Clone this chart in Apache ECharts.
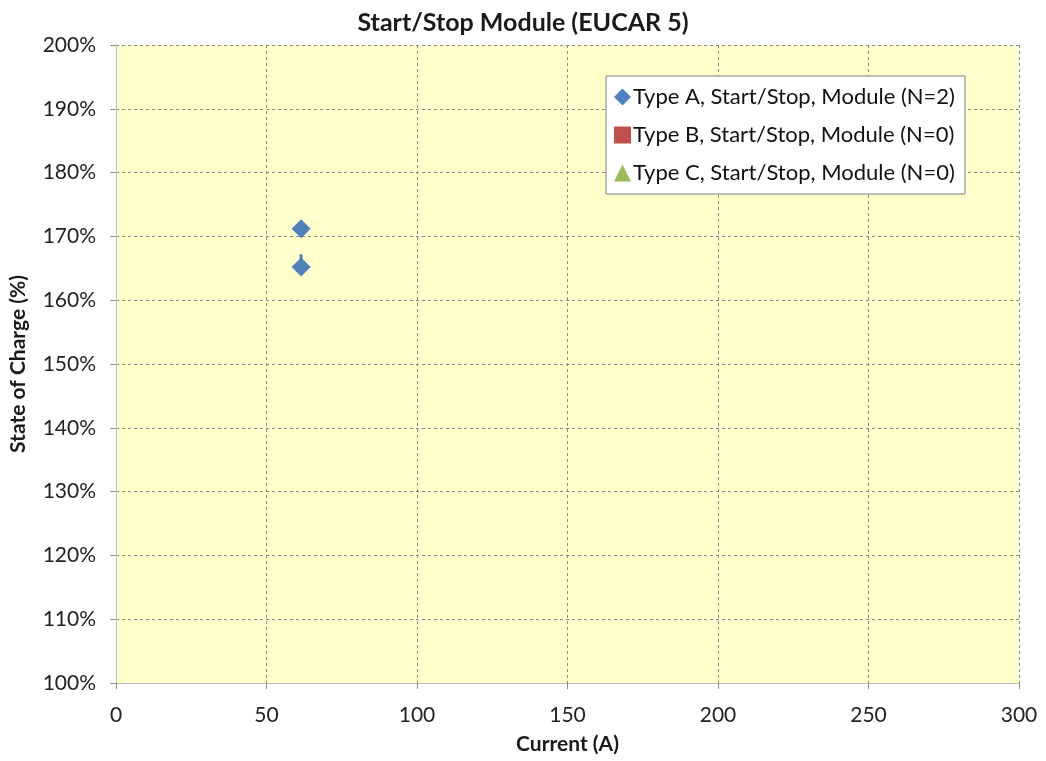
<!DOCTYPE html>
<html><head><meta charset="utf-8">
<script src="https://cdn.jsdelivr.net/npm/echarts@6/dist/echarts.min.js"></script>
<style>html,body{margin:0;padding:0;background:#fff}#c{width:1046px;height:761px}</style>
</head><body><div id="c"></div>
<script>
const seriesNames = ['Type A, Start/Stop, Module (N=2)', 'Type B, Start/Stop, Module (N=0)', 'Type C, Start/Stop, Module (N=0)'];
const typeA = [[61.5, 171.2], [61.5, 165.2]];
const typeB = [];
const typeC = [];
// error bars: [x, y, yHigh]
const errBars = [[61.5, 165.2, 167.2]];
const xTicks = [0, 50, 100, 150, 200, 250, 300];
const yTicks = [100, 110, 120, 130, 140, 150, 160, 170, 180, 190, 200];

const font = 'Lato, "Open Sans", sans-serif';
const chart = echarts.init(document.getElementById('c'));
const gridLine = {show: true, lineStyle: {color: '#8a8a8a', type: [3, 3], width: 1}};
chart.setOption({
  animation: false,
  backgroundColor: '#fff',
  title: {text: 'Start/Stop Module (EUCAR 5)', left: 'center', top: 5,
    textStyle: {fontFamily: font, fontSize: 25, fontWeight: 'bold', color: '#1a1a1a'}},
  grid: {left: 116, right: 27, top: 45, bottom: 78, show: true, backgroundColor: '#FFFFCC', borderWidth: 0},
  xAxis: {type: 'value', min: xTicks[0], max: xTicks[xTicks.length-1], interval: 50,
    name: 'Current (A)', nameLocation: 'middle', nameGap: 51,
    nameTextStyle: {fontFamily: font, fontSize: 21, fontWeight: 'bold', color: '#1a1a1a'},
    axisLine: {show: true, lineStyle: {color: '#bfbfbf'}},
    axisTick: {show: true, length: 6, inside: false, lineStyle: {color: '#8c8c8c'}},
    axisLabel: {fontFamily: font, fontSize: 21, color: '#222', margin: 22},
    splitLine: gridLine},
  yAxis: {type: 'value', min: yTicks[0], max: yTicks[yTicks.length-1], interval: 10,
    name: 'State of Charge (%)', nameLocation: 'middle', nameGap: 87, nameRotate: 90,
    nameTextStyle: {fontFamily: font, fontSize: 21, fontWeight: 'bold', color: '#1a1a1a'},
    axisLine: {show: true, lineStyle: {color: '#bfbfbf'}},
    axisTick: {show: true, length: 6, lineStyle: {color: '#8c8c8c'}},
    axisLabel: {fontFamily: font, fontSize: 21, color: '#222', margin: 20, formatter: '{value}%'},
    splitLine: gridLine},
  legend: {orient: 'vertical', left: 606, top: 76,
    backgroundColor: '#fff', borderColor: '#7f7f7f', borderWidth: 1, borderRadius: 0,
    padding: [10, 10, 10, 8], itemGap: 16, itemWidth: 17, itemHeight: 17,
    textStyle: {fontFamily: font, fontSize: 22, color: '#111', padding: [0, 0, 0, -3]},
    data: [
      {name: seriesNames[0], icon: 'diamond'},
      {name: seriesNames[1], icon: 'rect'},
      {name: seriesNames[2], icon: 'triangle'}
    ]},
  series: [
    {name: seriesNames[0], type: 'scatter', data: typeA, symbol: 'diamond', symbolSize: 19, itemStyle: {color: '#4F81BD', opacity: 1}, z: 5},
    {name: seriesNames[1], type: 'scatter', data: typeB, symbol: 'rect', symbolSize: 14, itemStyle: {color: '#C0504D', opacity: 1}},
    {name: seriesNames[2], type: 'scatter', data: typeC, symbol: 'triangle', symbolSize: 14, itemStyle: {color: '#9BBB59', opacity: 1}},
    {name: 'errA', type: 'custom', data: errBars, z: 4,
      renderItem: function(params, api) {
        const p0 = api.coord([api.value(0), api.value(1)]);
        const p1 = api.coord([api.value(0), api.value(2)]);
        return {type: 'line', shape: {x1: p0[0], y1: p0[1], x2: p1[0], y2: p1[1]},
          style: {stroke: '#4F81BD', lineWidth: 3}};
      }}
  ]
});
</script></body></html>
